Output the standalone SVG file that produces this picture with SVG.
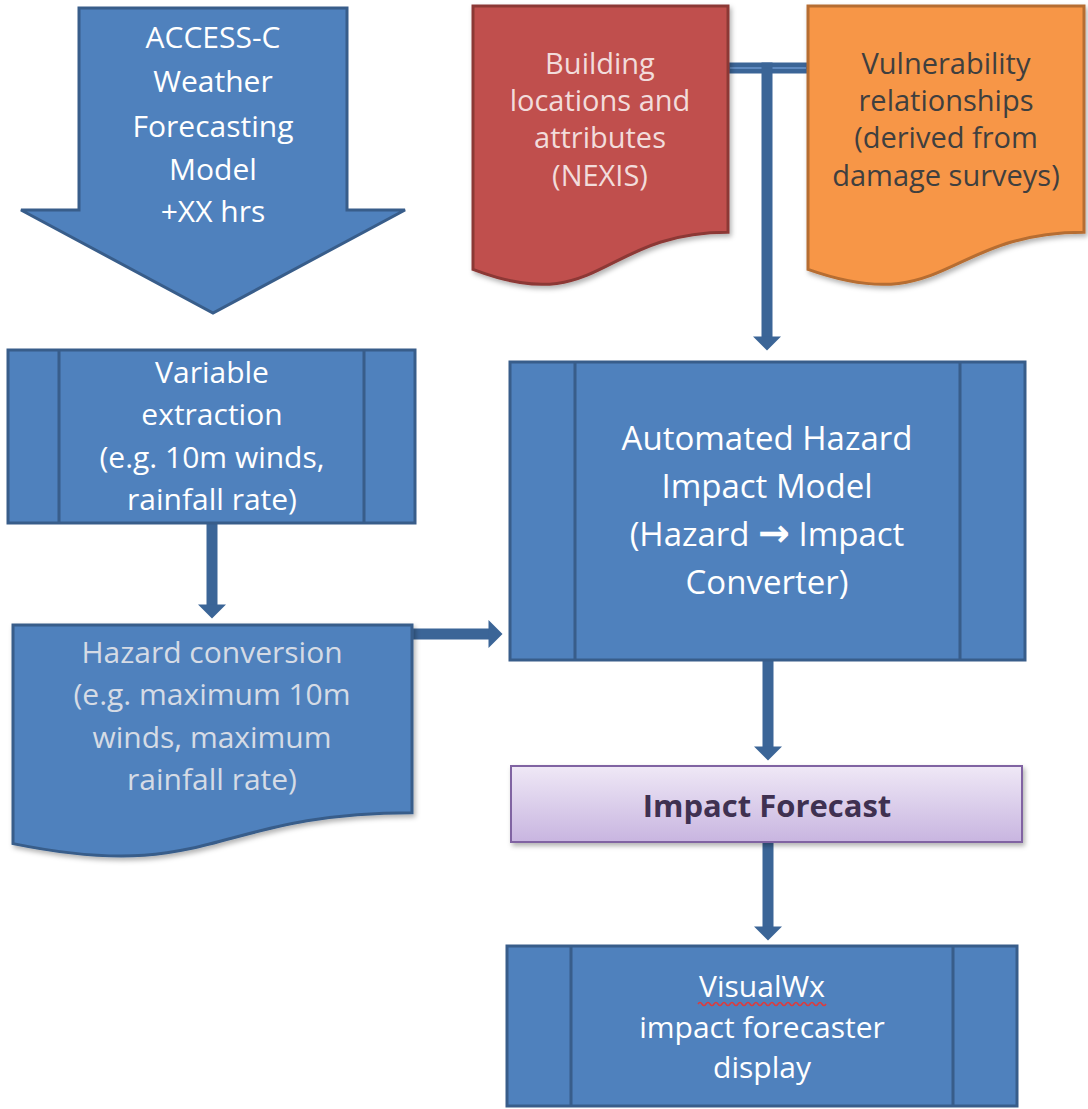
<svg xmlns="http://www.w3.org/2000/svg" width="1088" height="1109" viewBox="0 0 1088 1109">
<style>
  .t { font-family: "Open Sans", "Liberation Sans", sans-serif; text-anchor: middle; }
  .w { fill: #FFFFFF; font-size: 30px; }
  .blue { fill: #4F81BD; stroke: #385D8A; stroke-width: 3; }
  .inner { stroke: #385D8A; stroke-width: 3; fill: none; }
  .conn { stroke: #3B6597; stroke-width: 11; fill: none; stroke-linecap: butt; }
</style>
<defs>
  <marker id="ah" markerUnits="userSpaceOnUse" markerWidth="14" markerHeight="28" viewBox="0 0 14 28" refX="0.5" refY="14" orient="auto" overflow="visible">
    <path d="M0,0 L14,14 L0,28 Z" fill="#3B6597"/>
  </marker>
  <filter id="sh" x="-10%" y="-10%" width="125%" height="130%">
    <feDropShadow dx="2" dy="3" stdDeviation="2.5" flood-color="#000" flood-opacity="0.3"/>
  </filter>
  <linearGradient id="lav" x1="0" y1="0" x2="0" y2="1">
    <stop offset="0" stop-color="#EFE8F6"/>
    <stop offset="1" stop-color="#C8B5E0"/>
  </linearGradient>
</defs>
<rect width="1088" height="1109" fill="#FFFFFF"/>

<g id="connectors">
  <path class="conn" d="M728,68 H808"/>
  <path d="M730,68 H806" stroke="#5F8AC0" stroke-width="2" fill="none"/>
  <path class="conn" d="M767,62.5 V337" marker-end="url(#ah)"/>
  <path class="conn" d="M212,523 V605" marker-end="url(#ah)"/>
  <path class="conn" d="M412,634 H489" marker-end="url(#ah)"/>
  <path class="conn" d="M768,660 V747" marker-end="url(#ah)"/>
  <path class="conn" d="M768,842 V927" marker-end="url(#ah)"/>
</g>

<g id="access-c">
  <path class="blue" d="M79,8 H347 V210 H405 L213,313 L21,210 H79 Z"/>
  <text class="t w" x="213" y="48">ACCESS-C</text>
  <text class="t w" x="213" y="92">Weather</text>
  <text class="t w" x="213" y="137">Forecasting</text>
  <text class="t w" x="213" y="180">Model</text>
  <text class="t w" x="213" y="222">+XX hrs</text>
</g>

<g id="building-locations">
  <path filter="url(#sh)" fill="#C0504D" stroke="#8C3836" stroke-width="3" d="M473,6 H728 V232.2 C600.5,232.2 600.5,318.3 473,269.4 Z"/>
  <text class="t" x="600" y="74" font-size="29" fill="#F2DCDB">Building</text>
  <text class="t" x="600" y="111" font-size="29" fill="#F2DCDB">locations and</text>
  <text class="t" x="600" y="148" font-size="29" fill="#F2DCDB">attributes</text>
  <text class="t" x="600" y="186" font-size="29" fill="#F2DCDB">(NEXIS)</text>
</g>

<g id="vulnerability">
  <path filter="url(#sh)" fill="#F79646" stroke="#B66D31" stroke-width="3" d="M808,6 H1084 V232.2 C946,232.2 946,318.3 808,269.4 Z"/>
  <text class="t" x="946" y="74" font-size="29" fill="#3F3F3F">Vulnerability</text>
  <text class="t" x="946" y="111" font-size="29" fill="#3F3F3F">relationships</text>
  <text class="t" x="946" y="148" font-size="29" fill="#3F3F3F">(derived from</text>
  <text class="t" x="946" y="186" font-size="29" fill="#3F3F3F">damage surveys)</text>
</g>

<g id="variable-extraction">
  <rect class="blue" x="8" y="350" width="407" height="173"/>
  <path class="inner" d="M59,350 V523 M364,350 V523"/>
  <text class="t w" x="212" y="383">Variable</text>
  <text class="t w" x="212" y="425">extraction</text>
  <text class="t w" x="212" y="468">(e.g. 10m winds,</text>
  <text class="t w" x="212" y="510">rainfall rate)</text>
</g>

<g id="hazard-conversion">
  <path class="blue" filter="url(#sh)" d="M13,625 H412 V812.7 C212.5,812.7 212.5,884.2 13,843.6 Z"/>
  <text class="t" x="212" y="663" font-size="30" fill="#D5DBE5">Hazard conversion</text>
  <text class="t" x="212" y="705" font-size="30" fill="#D5DBE5">(e.g. maximum 10m</text>
  <text class="t" x="212" y="748" font-size="30" fill="#D5DBE5">winds, maximum</text>
  <text class="t" x="212" y="790" font-size="30" fill="#D5DBE5">rainfall rate)</text>
</g>

<g id="automated-model">
  <rect class="blue" x="510" y="362" width="515" height="298"/>
  <path class="inner" d="M575,362 V660 M960,362 V660"/>
  <text class="t" x="767" y="450" font-size="33" fill="#FFFFFF">Automated Hazard</text>
  <text class="t" x="767" y="498" font-size="33" fill="#FFFFFF">Impact Model</text>
  <text class="t" x="767" y="546" font-size="33" fill="#FFFFFF">(Hazard <tspan font-family="DejaVu Sans, sans-serif" font-weight="bold" font-size="38">→</tspan> Impact</text>
  <text class="t" x="767" y="594" font-size="33" fill="#FFFFFF">Converter)</text>
</g>

<g id="impact-forecast">
  <rect x="511" y="766" width="511" height="76" fill="url(#lav)" stroke="#8064A2" stroke-width="2" filter="url(#sh)"/>
  <text class="t" x="767" y="817" font-size="31" font-weight="bold" fill="#3F3151">Impact Forecast</text>
</g>

<g id="visualwx">
  <rect class="blue" x="507" y="946" width="510" height="160"/>
  <path class="inner" d="M571,946 V1106 M953,946 V1106"/>
  <text class="t w" x="762" y="997">VisualWx</text>
  <path d="M698,1004 q2,-3 4,0 t4,0 t4,0 t4,0 t4,0 t4,0 t4,0 t4,0 t4,0 t4,0 t4,0 t4,0 t4,0 t4,0 t4,0 t4,0 t4,0 t4,0 t4,0 t4,0 t4,0 t4,0 t4,0 t4,0 t4,0 t4,0 t4,0 t4,0 t4,0 t4,0 t4,0 t4,0" stroke="#E03A3A" stroke-width="1.5" fill="none"/>
  <text class="t w" x="762" y="1038">impact forecaster</text>
  <text class="t w" x="762" y="1078">display</text>
</g>
</svg>
